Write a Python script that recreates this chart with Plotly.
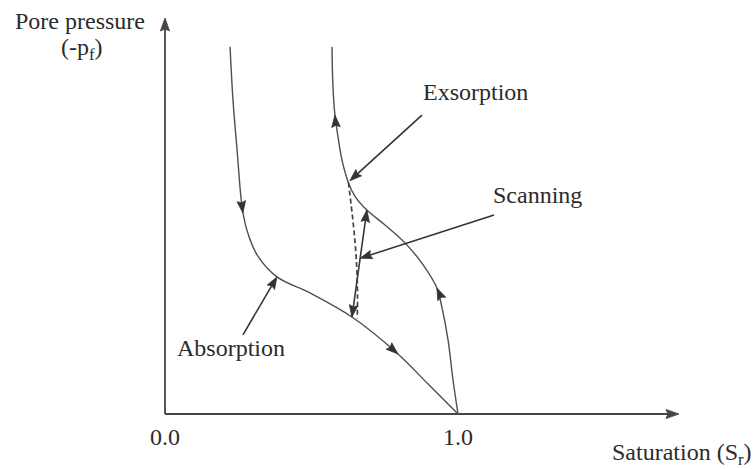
import numpy as np
import plotly.graph_objects as go

# ---- Path control points: degree of saturation (Sr) vs. suction (-pf) ----
absorption_sr = [0.222, 0.232, 0.246, 0.266, 0.287, 0.317, 0.382, 0.495, 0.638, 0.795, 0.898, 1.000]
absorption_p = [1.253, 1.072, 0.901, 0.686, 0.604, 0.539, 0.468, 0.413, 0.331, 0.205, 0.102, 0.000]

exsorption_sr = [1.000, 0.983, 0.966, 0.945, 0.928, 0.881, 0.819, 0.751, 0.689, 0.648,
                 0.625, 0.604, 0.587, 0.580, 0.573, 0.570]
exsorption_p = [0.000, 0.116, 0.253, 0.365, 0.430, 0.509, 0.584, 0.645, 0.696, 0.744,
                0.792, 0.867, 0.969, 1.020, 1.123, 1.253]

scanning_sr = [0.638, 0.689]
scanning_p = [0.331, 0.696]

scan_dashed_sr = [0.626, 0.643, 0.653, 0.657, 0.656]
scan_dashed_p = [0.790, 0.645, 0.526, 0.406, 0.326]

tick_values = [0.0, 1.0]
tick_labels = ["0.0", "1.0"]

# ---- canvas geometry (equal scale on both axes) ----
W, H = 754, 469
PX = 293.0                      # pixels per unit
X0, Y0 = 165.0, 414.0           # pixel position of the origin
x_range = [-X0 / PX, (W - X0) / PX]
y_range = [(Y0 - H) / PX, Y0 / PX]

CURVE = "#4e4e4e"
DARK = "#333333"
AXIS = "#454545"
TEXT = "#2b2b2b"
FONT = "Liberation Serif"

fig = go.Figure()


def head(tip, direction, length=12, half=4.3, color=DARK):
    """Filled arrowhead with its tip at `tip` pointing along `direction`."""
    d = np.asarray(direction, float)
    d = d / np.hypot(*d)
    n = np.array([-d[1], d[0]])
    t = np.asarray(tip, float)
    base = t - d * length / PX
    a = base + n * half / PX
    b = base - n * half / PX
    notch = t - d * (length * 0.85) / PX
    xs = [t[0], a[0], notch[0], b[0], t[0]]
    ys = [t[1], a[1], notch[1], b[1], t[1]]
    fig.add_trace(go.Scatter(x=xs, y=ys, mode="lines", fill="toself",
                             fillcolor=color, line=dict(color=color, width=0.8),
                             hoverinfo="skip", showlegend=False))


def curve(xs, ys, color=CURVE, width=1.4, dash=None, shape="spline"):
    fig.add_trace(go.Scatter(x=xs, y=ys, mode="lines",
                             line=dict(color=color, width=width, dash=dash,
                                       shape=shape, smoothing=1.0),
                             hoverinfo="skip", showlegend=False))


def flow_arrow(xs, ys, i, sense=1):
    """Arrowhead on a path at control point i, following the path direction."""
    n = len(xs)
    j0, j1 = max(i - 1, 0), min(i + 1, n - 1)
    d = np.array([xs[j1] - xs[j0], ys[j1] - ys[j0]]) * sense
    head((xs[i], ys[i]), d)


def pointer(tail, tip, color=DARK, width=1.6):
    tail = np.asarray(tail, float)
    tip = np.asarray(tip, float)
    d = tip - tail
    u = d / np.hypot(*d)
    end = tip - u * 9 / PX
    fig.add_trace(go.Scatter(x=[tail[0], end[0]], y=[tail[1], end[1]], mode="lines",
                             line=dict(color=color, width=width),
                             hoverinfo="skip", showlegend=False))
    head(tip, d, length=12, half=4.3, color=color)


# ---- coordinate axes with arrowheads ----
y_top = (Y0 - 18) / PX
x_end = (679 - X0) / PX
fig.add_trace(go.Scatter(x=[0, 0], y=[0, y_top - 8 / PX], mode="lines",
                         line=dict(color=AXIS, width=1.8), hoverinfo="skip", showlegend=False))
fig.add_trace(go.Scatter(x=[0, x_end - 8 / PX], y=[0, 0], mode="lines",
                         line=dict(color=AXIS, width=2.0), hoverinfo="skip", showlegend=False))
head((0, y_top), (0, 1), length=13, half=4.6, color=AXIS)
head((x_end, 0), (1, 0), length=13, half=4.6, color=AXIS)

# ---- hysteresis paths ----
curve(absorption_sr, absorption_p)
curve(exsorption_sr, exsorption_p)
curve(scan_dashed_sr, scan_dashed_p, color="#444444", width=1.7, dash="5px,3px")
curve(scanning_sr, scanning_p, color="#383838", width=1.6, shape="linear")

# direction of travel along each path
flow_arrow(absorption_sr, absorption_p, 3)
flow_arrow(absorption_sr, absorption_p, 9)
flow_arrow(exsorption_sr, exsorption_p, 4)
flow_arrow(exsorption_sr, exsorption_p, 13)
flow_arrow(scanning_sr, scanning_p, 1)
flow_arrow(scanning_sr, scanning_p, 0, sense=-1)

# ---- label pointers ----
scan_mid = (scanning_sr[0] + 0.55 * (scanning_sr[1] - scanning_sr[0]),
            scanning_p[0] + 0.55 * (scanning_p[1] - scanning_p[0]))
pointer((0.877, 1.020), (exsorption_sr[10] + 0.006, exsorption_p[10] + 0.004))
pointer((1.123, 0.679), scan_mid)
pointer((0.266, 0.270), (absorption_sr[6], absorption_p[6]))

# ---- text ----
def label(text, x, y, size=24, xanchor="center"):
    fig.add_annotation(x=x, y=y, text=text, showarrow=False, xanchor=xanchor,
                       yanchor="middle", font=dict(family=FONT, size=size, color=TEXT))


label("Pore pressure", -0.290, 1.340)
label("(-p<sub>f</sub>)", -0.283, 1.246)
label("Exsorption", 1.061, 1.098)
label("Scanning", 1.273, 0.748)
label("Absorption", 0.225, 0.224)
label("Saturation (S<sub>r</sub>)", 2.010, -0.138, xanchor="right")
for v, t in zip(tick_values, tick_labels):
    label(t, v, -0.078)

fig.update_layout(
    width=W, height=H, autosize=False,
    margin=dict(l=0, r=0, t=0, b=0),
    paper_bgcolor="white", plot_bgcolor="white",
    xaxis=dict(range=x_range, visible=False, fixedrange=True),
    yaxis=dict(range=y_range, visible=False, fixedrange=True),
    showlegend=False,
)

fig.write_html("out.html")
